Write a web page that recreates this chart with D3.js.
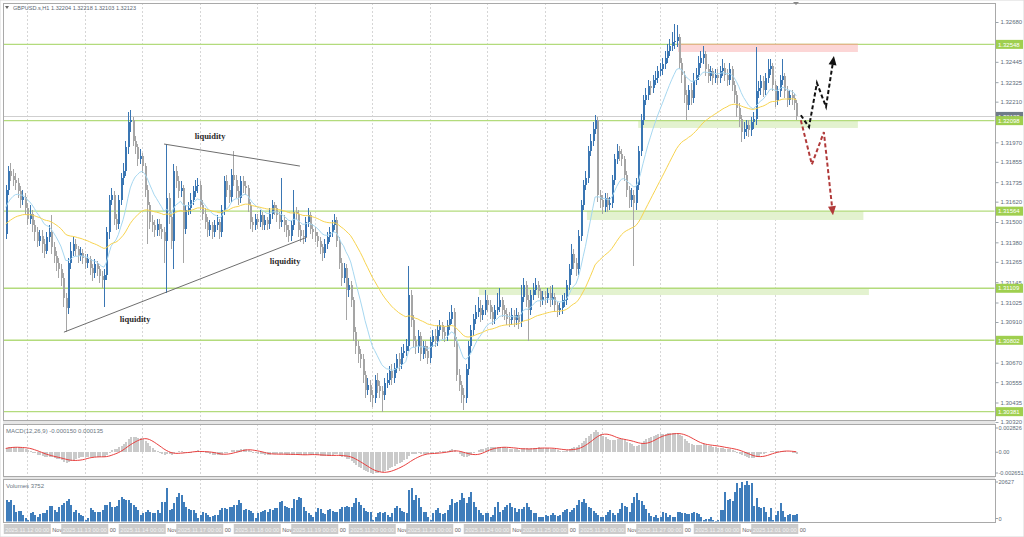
<!DOCTYPE html>
<html><head><meta charset="utf-8">
<script src="https://cdn.jsdelivr.net/npm/d3@7"></script>
<style>body{margin:0;background:#fff;}svg{display:block;font-family:"Liberation Sans",Arial,sans-serif;}</style>
</head><body><svg id="c" width="1024" height="537"></svg>
<script>
// ---------- DATA (GBPUSD.s H1) ----------
const firstOpen = 1.3143;
const closes = [
1.3169,1.3180,1.3177,1.3175,1.3173,1.3168,1.3163,1.3165,1.3158,1.3152,
1.3155,1.3148,1.3144,1.3139,1.3142,1.3137,1.3133,1.3141,1.3144,1.3135,
1.3130,1.3126,1.3122,1.3117,1.3105,1.3099,1.3126,1.3133,1.3137,1.3134,
1.3130,1.3132,1.3129,1.3126,1.3128,1.3123,1.3120,1.3125,1.3122,1.3118,
1.3116,1.3119,1.3144,1.3163,1.3166,1.3152,1.3149,1.3163,1.3176,1.3180,
1.3194,1.3209,1.3210,1.3198,1.3194,1.3187,1.3189,1.3183,1.3169,1.3160,
1.3150,1.3148,1.3145,1.3149,1.3146,1.3144,1.3139,1.3164,1.3153,1.3139,
1.3180,1.3174,1.3168,1.3170,1.3146,1.3157,1.3158,1.3163,1.3168,1.3171,
1.3172,1.3160,1.3155,1.3150,1.3145,1.3148,1.3144,1.3148,1.3150,1.3144,
1.3157,1.3174,1.3169,1.3165,1.3178,1.3175,1.3168,1.3164,1.3174,1.3171,
1.3170,1.3160,1.3150,1.3148,1.3152,1.3150,1.3154,1.3148,1.3151,1.3149,
1.3155,1.3160,1.3158,1.3154,1.3150,1.3151,1.3148,1.3145,1.3142,1.3148,
1.3156,1.3155,1.3145,1.3142,1.3141,1.3150,1.3154,1.3146,1.3144,1.3142,
1.3139,1.3135,1.3132,1.3137,1.3141,1.3144,1.3148,1.3151,1.3139,1.3126,
1.3117,1.3123,1.3110,1.3113,1.3104,1.3085,1.3077,1.3072,1.3069,1.3060,
1.3051,1.3054,1.3048,1.3046,1.3057,1.3053,1.3050,1.3048,1.3055,1.3057,
1.3062,1.3058,1.3064,1.3069,1.3066,1.3073,1.3074,1.3077,1.3107,1.3092,
1.3080,1.3076,1.3083,1.3072,1.3077,1.3074,1.3070,1.3079,1.3083,1.3080,
1.3086,1.3089,1.3085,1.3083,1.3089,1.3093,1.3097,1.3080,1.3060,1.3054,
1.3048,1.3046,1.3063,1.3077,1.3086,1.3093,1.3097,1.3099,1.3095,1.3098,
1.3104,1.3101,1.3097,1.3093,1.3098,1.3100,1.3104,1.3098,1.3096,1.3093,
1.3092,1.3095,1.3092,1.3095,1.3091,1.3106,1.3113,1.3104,1.3098,1.3107,
1.3110,1.3113,1.3109,1.3104,1.3106,1.3105,1.3108,1.3104,1.3106,1.3101,
1.3098,1.3099,1.3104,1.3104,1.3113,1.3122,1.3131,1.3126,1.3122,1.3142,
1.3160,1.3172,1.3176,1.3192,1.3198,1.3205,1.3210,1.3166,1.3163,1.3159,
1.3164,1.3160,1.3161,1.3175,1.3187,1.3192,1.3190,1.3187,1.3178,1.3169,
1.3163,1.3166,1.3161,1.3172,1.3192,1.3210,1.3222,1.3225,1.3230,1.3229,
1.3234,1.3235,1.3239,1.3240,1.3243,1.3247,1.3251,1.3254,1.3256,1.3257,
1.3259,1.3244,1.3237,1.3225,1.3219,1.3228,1.3223,1.3234,1.3237,1.3244,
1.3247,1.3249,1.3240,1.3236,1.3239,1.3235,1.3237,1.3235,1.3239,1.3241,
1.3237,1.3234,1.3240,1.3231,1.3225,1.3217,1.3211,1.3203,1.3205,1.3207,
1.3204,1.3209,1.3211,1.3227,1.3229,1.3233,1.3228,1.3235,1.3240,1.3242,
1.3231,1.3222,1.3227,1.3234,1.3236,1.3227,1.3222,1.3225,1.3223,1.32204,
1.32123];
const highs = [
1.3172,1.3183,1.3185,1.3181,1.3179,1.3176,1.3171,1.3169,1.3167,1.3161,
1.3160,1.3157,1.3151,1.3147,1.3145,1.3145,1.3140,1.3144,1.3148,1.3154,
1.3138,1.3133,1.3129,1.3125,1.3120,1.3108,1.3129,1.3138,1.3141,1.3140,
1.3136,1.3135,1.3134,1.3131,1.3131,1.3130,1.3125,1.3128,1.3127,1.3124,
1.3121,1.3122,1.3147,1.3166,1.3170,1.3168,1.3155,1.3166,1.3179,1.3185,
1.3198,1.3215,1.3216,1.3212,1.3201,1.3196,1.3193,1.3191,1.3185,1.3172,
1.3162,1.3154,1.3151,1.3152,1.3152,1.3149,1.3147,1.3196,1.3167,1.3156,
1.3184,1.3183,1.3177,1.3174,1.3172,1.3160,1.3162,1.3167,1.3171,1.3175,
1.3176,1.3174,1.3163,1.3158,1.3153,1.3151,1.3150,1.3151,1.3154,1.3152,
1.3160,1.3177,1.3178,1.3172,1.3181,1.3192,1.3178,1.3171,1.3177,1.3177,
1.3174,1.3172,1.3162,1.3153,1.3155,1.3155,1.3157,1.3156,1.3154,1.3153,
1.3158,1.3163,1.3162,1.3160,1.3156,1.3176,1.3154,1.3151,1.3148,1.3151,
1.3169,1.3159,1.3157,1.3148,1.3145,1.3153,1.3158,1.3156,1.3149,1.3147,
1.3144,1.3141,1.3137,1.3140,1.3144,1.3147,1.3151,1.3155,1.3153,1.3141,
1.3129,1.3126,1.3125,1.3117,1.3115,1.3106,1.3088,1.3080,1.3075,1.3072,
1.3062,1.3058,1.3057,1.3051,1.3060,1.3061,1.3056,1.3053,1.3058,1.3061,
1.3065,1.3066,1.3067,1.3072,1.3073,1.3076,1.3078,1.3081,1.3124,1.3110,
1.3095,1.3083,1.3086,1.3085,1.3080,1.3080,1.3077,1.3082,1.3086,1.3087,
1.3089,1.3092,1.3091,1.3088,1.3092,1.3097,1.3101,1.3099,1.3082,1.3063,
1.3056,1.3052,1.3066,1.3080,1.3089,1.3096,1.3101,1.3106,1.3104,1.3101,
1.3110,1.3107,1.3104,1.3100,1.3101,1.3108,1.3111,1.3106,1.3101,1.3099,
1.3097,1.3099,1.3098,1.3099,1.3097,1.3113,1.3117,1.3115,1.3107,1.3110,
1.3114,1.3117,1.3115,1.3111,1.3109,1.3109,1.3111,1.3112,1.3113,1.3108,
1.3103,1.3102,1.3107,1.3108,1.3116,1.3125,1.3137,1.3134,1.3129,1.3145,
1.3163,1.3175,1.3180,1.3195,1.3202,1.3209,1.3213,1.3212,1.3169,1.3166,
1.3167,1.3167,1.3165,1.3178,1.3190,1.3196,1.3195,1.3193,1.3189,1.3180,
1.3171,1.3170,1.3169,1.3176,1.3195,1.3214,1.3225,1.3229,1.3234,1.3233,
1.3237,1.3239,1.3242,1.3244,1.3247,1.3251,1.3255,1.3258,1.3262,1.3267,
1.3266,1.3261,1.3247,1.3239,1.3228,1.3231,1.3232,1.3238,1.3241,1.3248,
1.3251,1.3254,1.3251,1.3243,1.3242,1.3241,1.3240,1.3240,1.3242,1.3246,
1.3244,1.3240,1.3244,1.3242,1.3233,1.3227,1.3220,1.3213,1.3209,1.3210,
1.3210,1.3212,1.3215,1.3253,1.3233,1.3237,1.3236,1.3238,1.3246,1.3246,
1.3244,1.3233,1.3230,1.3237,1.3246,1.3238,1.3230,1.3228,1.3228,1.3226,
1.32218];
const lows = [
1.3140,1.3166,1.3174,1.3171,1.3169,1.3164,1.3158,1.3160,1.3154,1.3148,
1.3149,1.3144,1.3139,1.3135,1.3136,1.3132,1.3129,1.3131,1.3138,1.3131,
1.3126,1.3121,1.3117,1.3112,1.3100,1.3085,1.3096,1.3122,1.3130,1.3130,
1.3126,1.3127,1.3125,1.3122,1.3123,1.3119,1.3115,1.3117,1.3118,1.3114,
1.3111,1.3100,1.3116,1.3140,1.3160,1.3148,1.3145,1.3146,1.3160,1.3172,
1.3177,1.3190,1.3203,1.3195,1.3190,1.3183,1.3184,1.3179,1.3165,1.3137,
1.3146,1.3144,1.3141,1.3142,1.3142,1.3140,1.3126,1.3108,1.3149,1.3134,
1.3122,1.3170,1.3164,1.3165,1.3126,1.3143,1.3154,1.3155,1.3160,1.3165,
1.3167,1.3157,1.3151,1.3146,1.3141,1.3142,1.3140,1.3141,1.3145,1.3140,
1.3141,1.3154,1.3165,1.3161,1.3162,1.3171,1.3164,1.3160,1.3161,1.3167,
1.3166,1.3156,1.3146,1.3144,1.3145,1.3146,1.3147,1.3145,1.3145,1.3145,
1.3146,1.3152,1.3154,1.3150,1.3146,1.3147,1.3144,1.3141,1.3138,1.3139,
1.3145,1.3151,1.3141,1.3138,1.3137,1.3138,1.3147,1.3143,1.3140,1.3138,
1.3135,1.3131,1.3127,1.3129,1.3134,1.3138,1.3141,1.3145,1.3135,1.3122,
1.3112,1.3114,1.3092,1.3106,1.3100,1.3080,1.3072,1.3067,1.3064,1.3055,
1.3046,1.3048,1.3044,1.3041,1.3043,1.3049,1.3046,1.3038,1.3045,1.3052,
1.3054,1.3054,1.3055,1.3061,1.3062,1.3063,1.3070,1.3071,1.3074,1.3088,
1.3076,1.3072,1.3073,1.3068,1.3069,1.3070,1.3066,1.3067,1.3076,1.3076,
1.3077,1.3083,1.3081,1.3079,1.3080,1.3086,1.3090,1.3076,1.3056,1.3050,
1.3043,1.3039,1.3043,1.3060,1.3073,1.3083,1.3090,1.3094,1.3091,1.3092,
1.3095,1.3097,1.3093,1.3089,1.3090,1.3095,1.3097,1.3094,1.3092,1.3089,
1.3088,1.3089,1.3088,1.3089,1.3087,1.3088,1.3103,1.3100,1.3080,1.3095,
1.3104,1.3107,1.3105,1.3100,1.3101,1.3101,1.3102,1.3100,1.3101,1.3097,
1.3094,1.3095,1.3096,1.3100,1.3101,1.3110,1.3119,1.3122,1.3118,1.3119,
1.3139,1.3157,1.3169,1.3173,1.3189,1.3195,1.3202,1.3162,1.3158,1.3155,
1.3156,1.3156,1.3157,1.3158,1.3172,1.3184,1.3186,1.3183,1.3174,1.3165,
1.3158,1.3159,1.3124,1.3157,1.3169,1.3189,1.3207,1.3219,1.3222,1.3225,
1.3226,1.3231,1.3232,1.3236,1.3237,1.3240,1.3244,1.3248,1.3251,1.3252,
1.3253,1.3240,1.3232,1.3220,1.3210,1.3216,1.3219,1.3220,1.3231,1.3234,
1.3241,1.3243,1.3236,1.3232,1.3233,1.3231,1.3232,1.3231,1.3232,1.3236,
1.3233,1.3230,1.3231,1.3227,1.3220,1.3212,1.3206,1.3197,1.3199,1.3201,
1.3200,1.3201,1.3205,1.3207,1.3223,1.3225,1.3224,1.3225,1.3232,1.3237,
1.3227,1.3218,1.3219,1.3224,1.3231,1.3223,1.3218,1.3219,1.3219,1.3216,
1.32103];
const volumes = [
10960,10100,10960,8400,5000,5520,5520,3300,1950,760,
4160,5000,3300,2460,3820,4160,4500,5860,7900,7900,
5860,5000,7220,8400,9260,10620,11300,8400,5000,5860,
4500,3300,2800,760,1600,6700,5860,5000,5000,5000,
5860,8400,8400,10100,7560,7220,7900,10960,12660,11300,
10960,10960,9600,8400,7220,5860,3300,4500,5000,5860,
5000,4160,4160,5860,4160,10100,10100,16900,5860,6200,
9260,12660,14700,13500,10100,7220,6200,5860,5860,4160,
1600,3300,5000,4160,3300,2460,2800,3300,3300,5860,
6700,6700,6200,7220,7220,8400,8400,10960,9600,5860,
6200,5860,5520,4500,1600,4160,5000,5520,5860,5000,
6200,5860,6700,6700,10100,10620,7900,7220,6700,6700,
11300,10960,12660,11800,7220,5520,4500,3300,2120,5000,
6700,6200,4500,3820,5860,6200,5520,5000,5000,6200,
7560,7220,7900,7560,7560,9260,11800,10100,8400,6700,
5520,5000,5000,760,2460,4500,5000,4160,5000,3300,
2460,4160,6700,7900,6700,5520,5000,4500,16060,16900,
10960,13500,11800,7560,5000,5000,2460,760,4160,5860,
6700,4160,3820,4160,5860,8400,11300,9260,10100,10960,
14360,11800,9260,12660,15200,10100,7220,5860,4160,3300,
4160,4500,2460,3300,7220,10100,5000,5860,7220,8400,
9260,7560,6700,5000,6200,6200,7220,9260,7220,5860,
4160,4160,2120,2120,2460,3300,2800,3300,4160,3300,
2800,3300,5000,5860,6200,5000,5860,6700,8400,10960,
10100,11300,9260,7220,6700,5520,4160,3300,2460,2120,
3300,5000,5860,4160,3300,4500,6200,9260,7900,7220,
5000,9600,12660,14700,10960,10620,8400,6200,4160,2800,
2120,3300,1600,2460,5000,4160,2460,3300,2460,2460,
5000,5000,4500,4500,3820,3820,4160,5000,4160,3820,
2460,760,1100,1450,2460,760,420,760,5860,5860,
15200,10960,11470,10620,15200,19800,16900,20300,18600,20627,
18600,19460,7900,11800,7220,6700,7560,5000,2460,6700,
760,3300,5520,9600,5520,2460,3300,3820,3300,3300,
3752];
const maSeeds = { fast: 1.3157, slow: 1.3148 };        // MA values at the left edge
const macdSeeds = { ema12: 1.3160, ema26: 1.3156 };
const maPeriods = { fast: 14, slow: 50 };

const priceTicks = [1.32680,1.32445,1.32325,1.32210,1.31970,1.31855,1.31735,1.31620,1.31500,1.31380,1.31265,1.31145,1.31025,1.30910,1.30670,1.30555,1.30435,1.30320];
const levelPrices = [1.32548,1.32098,1.31564,1.31109,1.30802,1.30381];
const currentPrice = 1.32123;
const dateIndex = [9,33,57,81,105,129,153,177,201,225,249,273,297,321];
const dateLabels = ["2025.11.12 00:00","2025.11.13 00:00","2025.11.14 00:00","2025.11.17 00:00","2025.11.18 00:00","2025.11.19 00:00","2025.11.20 00:00","2025.11.21 00:00","2025.11.24 00:00","2025.11.25 00:00","2025.11.26 00:00","2025.11.27 00:00","2025.11.28 00:00","2025.12.01 00:00"];
const dateTails = ["Nov","00","Nov","00","Nov","00","Nov","00","Nov","00","Nov","00","Nov","00"];
// zones: [fromIndex, toIndex, topPrice, bottomPrice, kind]
const zones = [[280.6,355.7,1.32548,1.32503,"red"],[264,355.7,1.32098,1.32055,"green"],[242.6,358,1.31564,1.31512,"green"],[197.5,360.3,1.31109,1.31069,"green"]];
const liquidityLines = [[[66.1,1.3196],[122.8,1.3183]],[[24.3,1.3085],[125.7,1.3141]]];
const liquidityLabels = [[85.3,1.3201],[116.6,1.3127],[54,1.3093]];
const bullPath = [[331.9,1.3213],[335.3,1.3206],[338.6,1.3232],[342.4,1.3218],[345.7,1.3248]];
const bearPath = [[331.9,1.3210],[336.5,1.3184],[341.5,1.3203],[345.3,1.3154]];

// ---------- DRAW ----------
const svg = d3.select("#c");
const N = Math.min(closes.length, highs.length, lows.length, volumes.length);
const opens = closes.map((c,i)=> i===0 ? firstOpen : closes[i-1]);
const L = 3, R = 995;
const P = {main:[3,420], macd:[424,476], vol:[479,522]};
const x = d3.scaleLinear().domain([0,412.1]).range([5.7,993]);
const yP = d3.scaleLinear().domain([1.30320,1.32680]).range([422,22]);
const yM = d3.scaleLinear().domain([-0.002651,0.002826]).range([475,428]);
const yV = d3.scaleLinear().domain([0,20627]).range([521.5,481]);

const defs = svg.append("defs");
Object.entries(P).forEach(([k,[t,b]])=>{
  defs.append("clipPath").attr("id","clip-"+k).append("rect").attr("x",L+0.5).attr("y",t+0.5).attr("width",R-L-1).attr("height",b-t-1);
});

// background and frames
svg.append("rect").attr("width",1024).attr("height",537).attr("fill","#fff");
svg.append("rect").attr("x",0).attr("y",0).attr("width",1024).attr("height",537).attr("fill","none").attr("stroke","#d8d8d8");
svg.append("rect").attr("x",L).attr("y",P.main[1]).attr("width",R-L).attr("height",P.macd[0]-P.main[1]).attr("fill","#e6e6e6");
svg.append("rect").attr("x",L).attr("y",P.macd[1]).attr("width",R-L).attr("height",P.vol[0]-P.macd[1]).attr("fill","#e6e6e6");

const gGrid = svg.append("g").attr("shape-rendering","crispEdges");
Object.values(P).forEach(([t,b])=>{
  gGrid.selectAll(null).data(dateIndex).enter().append("line")
    .attr("x1",d=>Math.round(x(d))+0.5).attr("x2",d=>Math.round(x(d))+0.5)
    .attr("y1",t).attr("y2",b).attr("stroke","#d6d6d6").attr("stroke-dasharray","2,2");
});

// main panel
const gMain = svg.append("g").attr("clip-path","url(#clip-main)");
zones.forEach(([a,b,top,bot,kind])=>{
  gMain.append("rect").attr("x",x(a)).attr("width",x(b)-x(a)).attr("y",yP(top)).attr("height",yP(bot)-yP(top))
    .attr("fill", kind==="red" ? "#fcd6d6" : "#e3f2cf");
});
gMain.append("line").attr("x1",L).attr("x2",R).attr("y1",Math.round(yP(currentPrice))+0.5).attr("y2",Math.round(yP(currentPrice))+0.5)
  .attr("stroke","#cfcfcf").attr("shape-rendering","crispEdges");
gMain.selectAll(".lvl").data(levelPrices).enter().append("line")
  .attr("x1",L).attr("x2",R).attr("y1",d=>yP(d)).attr("y2",d=>yP(d))
  .attr("stroke","#b3db7c").attr("stroke-width",1.4);
gMain.append("line").attr("x1",x(zones[0][0])).attr("x2",x(zones[0][1])).attr("y1",yP(zones[0][2])).attr("y2",yP(zones[0][2]))
  .attr("stroke","#e3b48a").attr("stroke-width",1.2);

// candles
const bull = "#3a76b3", bear = "#a5a5a5";
const gC = gMain.append("g").attr("shape-rendering","crispEdges");
d3.range(N).forEach(i=>{
  const o=opens[i], c=closes[i];
  const h=Math.max(highs[i],o,c), l=Math.min(lows[i],o,c);
  const col = c>=o ? bull : bear;
  const cx = Math.round(x(i));
  gC.append("line").attr("x1",cx+0.5).attr("x2",cx+0.5).attr("y1",yP(h)).attr("y2",yP(l)).attr("stroke",col);
  const y1=yP(Math.max(o,c)), y2=yP(Math.min(o,c));
  gC.append("rect").attr("x",cx-0.5).attr("width",2).attr("y",y1).attr("height",Math.max(1,y2-y1)).attr("fill",col);
});

// moving averages
function ema(arr,n,seed){const k=2/(n+1);let e=seed;return arr.map(v=>(e=e+k*(v-e)));}
const maFast = ema(closes.slice(0,N),maPeriods.fast,maSeeds.fast);
const maSlow = ema(closes.slice(0,N),maPeriods.slow,maSeeds.slow);
const line = d3.line().x((d,i)=>x(i)).y(d=>yP(d));
gMain.append("path").attr("d",line(maFast)).attr("fill","none").attr("stroke","#a6d7f0").attr("stroke-width",1);
gMain.append("path").attr("d",line(maSlow)).attr("fill","none").attr("stroke","#f7d34f").attr("stroke-width",1);

// liquidity annotations
liquidityLines.forEach(seg=>{
  gMain.append("line").attr("x1",x(seg[0][0])).attr("y1",yP(seg[0][1])).attr("x2",x(seg[1][0])).attr("y2",yP(seg[1][1]))
    .attr("stroke","#6e6e6e").attr("stroke-width",1);
});
gMain.selectAll(".liq").data(liquidityLabels).enter().append("text")
  .attr("x",d=>x(d[0])).attr("y",d=>yP(d[1])+3).attr("text-anchor","middle")
  .attr("font-family","'Liberation Serif','Times New Roman',serif").attr("font-weight","bold").attr("font-size",8.5).attr("fill","#2b2b2b")
  .text("liquidity");

// scenario arrows
function arrow(path,color){
  const pts = path.slice();
  const a = pts[pts.length-2], b = pts[pts.length-1];
  const ax=x(a[0]), ay=yP(a[1]), bx=x(b[0]), by=yP(b[1]);
  const ang = Math.atan2(by-ay,bx-ax);
  const hl=9, hw=4;
  const sx = bx-Math.cos(ang)*hl, sy = by-Math.sin(ang)*hl;
  const trimmed = pts.slice(0,-1).map(p=>[x(p[0]),yP(p[1])]).concat([[sx,sy]]);
  gMain.append("path").attr("d",d3.line()(trimmed)).attr("fill","none").attr("stroke",color)
    .attr("stroke-width",2).attr("stroke-dasharray","4,2.5");
  const p1=[sx+Math.sin(ang)*hw, sy-Math.cos(ang)*hw], p2=[sx-Math.sin(ang)*hw, sy+Math.cos(ang)*hw];
  gMain.append("path").attr("d",`M${bx},${by}L${p1[0]},${p1[1]}L${p2[0]},${p2[1]}Z`).attr("fill",color);
}
arrow(bullPath,"#111111");
arrow(bearPath,"#b13a3a");

// MACD panel
const c12 = ema(closes.slice(0,N),12,macdSeeds.ema12), c26 = ema(closes.slice(0,N),26,macdSeeds.ema26);
const macd = c12.map((v,i)=>v-c26[i]);
const signal = macd.map((v,i)=>d3.mean(macd.slice(Math.max(0,i-8),i+1)));
const gM = svg.append("g").attr("clip-path","url(#clip-macd)");
gM.append("g").attr("shape-rendering","crispEdges").selectAll("rect").data(macd).enter().append("rect")
  .attr("x",(d,i)=>Math.round(x(i))-0.5).attr("width",2)
  .attr("y",d=>Math.min(yM(d),yM(0))).attr("height",d=>Math.max(0.5,Math.abs(yM(d)-yM(0))))
  .attr("fill","#cacaca");
gM.append("path").attr("d",d3.line().x((d,i)=>x(i)).y(d=>yM(d))(signal)).attr("fill","none").attr("stroke","#e8403f").attr("stroke-width",1);

// Volume panel
const gV = svg.append("g").attr("clip-path","url(#clip-vol)").attr("shape-rendering","crispEdges");
gV.selectAll("rect").data(volumes.slice(0,N)).enter().append("rect")
  .attr("x",(d,i)=>Math.round(x(i))-0.5).attr("width",2)
  .attr("y",d=>yV(d)).attr("height",d=>yV(0)-yV(d)).attr("fill","#3f7dbb");

// panel borders
const gB = svg.append("g").attr("shape-rendering","crispEdges").attr("fill","none").attr("stroke","#a9a9a9");
Object.values(P).forEach(([t,b])=>gB.append("rect").attr("x",L+0.5).attr("y",t+0.5).attr("width",R-L).attr("height",b-t));

// price axis
const axisColor = "#5d6b79";
const gAx = svg.append("g").attr("transform",`translate(${R+0.5},0)`)
  .call(d3.axisRight(yP).tickValues(priceTicks).tickFormat(d3.format(".5f")).tickSize(3).tickPadding(2));
gAx.select(".domain").remove();
gAx.selectAll("line").attr("stroke","#9aa3ab");
gAx.selectAll("text").attr("fill",axisColor).attr("font-size",6).attr("font-family","'Liberation Sans',Arial,sans-serif");

function tag(price,fill,txt){
  const yy = yP(price);
  svg.append("rect").attr("x",R+1).attr("y",yy-4.5).attr("width",27).attr("height",9).attr("fill",fill);
  svg.append("text").attr("x",R+3).attr("y",yy+2.2).attr("fill","#fff").attr("font-size",6).text(txt);
}
tag(currentPrice,"#6f7b88",d3.format(".5f")(currentPrice));
levelPrices.forEach(p=>tag(p,"#9fcf4f",d3.format(".5f")(p)));

// MACD & volume axis labels
const sub = [[yM(0.002826)+2,"0.002826"],[yM(0)+2,"0.00"],[yM(-0.002651)+0,"-0.002651"],[yV(20627)+3,"20627"],[yV(0)-1,"0"]];
sub.forEach(([yy,t])=>{
  svg.append("line").attr("x1",R).attr("x2",R+3).attr("y1",yy-2).attr("y2",yy-2).attr("stroke","#9aa3ab");
  svg.append("text").attr("x",R+3.5).attr("y",yy).attr("fill",axisColor).attr("font-size",5.6).text(t);
});

// titles
svg.append("path").attr("d","M5,6L9,6L7,9Z").attr("fill","#666");
svg.append("text").attr("x",13).attr("y",10).attr("font-size",6.2).attr("fill","#5a6673")
  .attr("textLength",123).attr("lengthAdjust","spacingAndGlyphs")
  .text("GBPUSD.s,H1  1.32204 1.32218 1.32103 1.32123");
svg.append("text").attr("x",6).attr("y",433).attr("font-size",6).attr("fill","#6a7682").text("MACD(12,26,9) -0.000150 0.000135");
svg.append("text").attr("x",6).attr("y",488).attr("font-size",6).attr("fill","#6a7682").text("Volumes 3752");
svg.append("path").attr("d","M793,2L799,2L796,5Z").attr("fill","#888");

// time axis
const gT = svg.append("g");
dateIndex.forEach((idx,k)=>{
  const cx = x(idx);
  gT.append("rect").attr("x",cx-23.5).attr("y",524).attr("width",47).attr("height",10).attr("fill","#cbcbcb");
  gT.append("text").attr("x",cx-22).attr("y",531.5).attr("font-size",5.6).attr("fill","#f4f4f4")
    .attr("textLength",44).attr("lengthAdjust","spacingAndGlyphs").text(dateLabels[k]);
  gT.append("text").attr("x",cx+25).attr("y",531.5).attr("font-size",5.6).attr("fill","#666").text(dateTails[k]);
});
</script></body></html>
